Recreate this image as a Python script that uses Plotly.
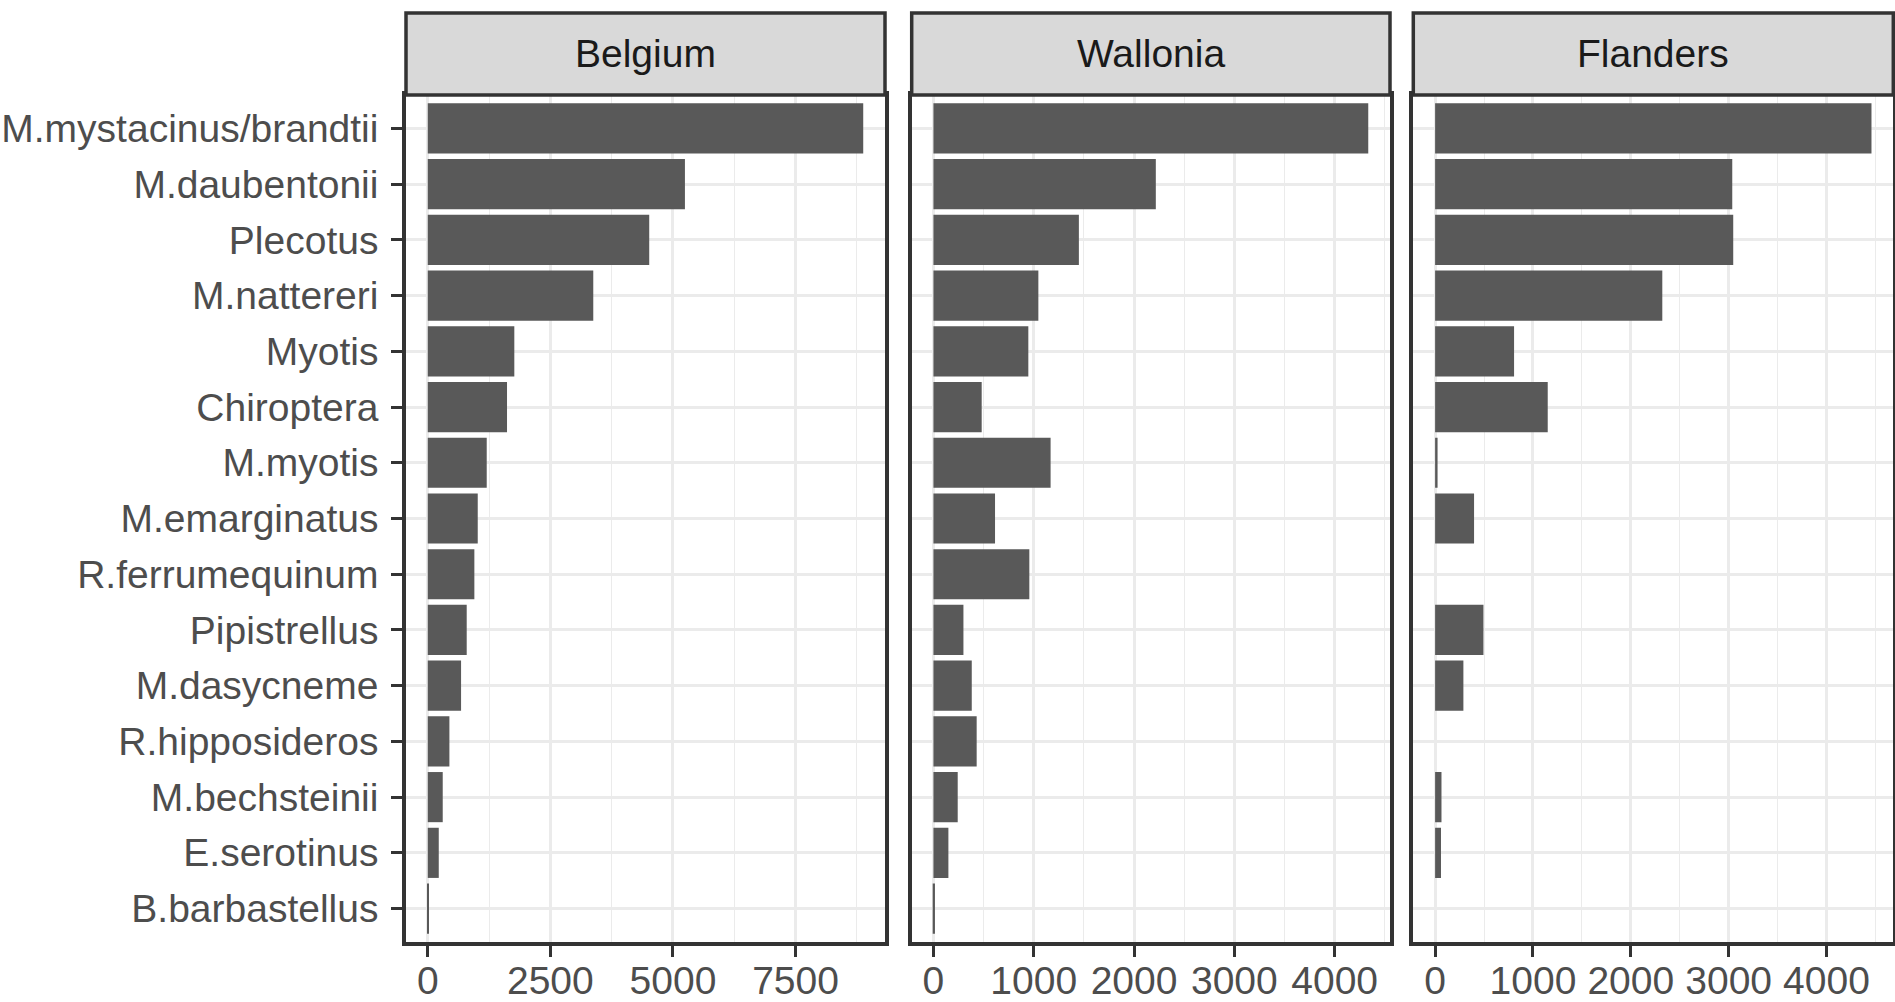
import plotly.graph_objects as go

# ---------------- data ----------------
species = [
    "M.mystacinus/brandtii", "M.daubentonii", "Plecotus", "M.nattereri", "Myotis",
    "Chiroptera", "M.myotis", "M.emarginatus", "R.ferrumequinum", "Pipistrellus",
    "M.dasycneme", "R.hipposideros", "M.bechsteinii", "E.serotinus", "B.barbastellus",
]
regions = ["Belgium", "Wallonia", "Flanders"]
belgium = [8880, 5244, 4516, 3375, 1765, 1616, 1202, 1019, 950, 794, 679, 441, 305, 224, 25]
wallonia = [4335, 2217, 1450, 1046, 946, 481, 1168, 614, 956, 299, 382, 431, 242, 149, 15]
flanders = [4460, 3037, 3047, 2322, 807, 1151, 25, 398, 0, 494, 289, 0, 65, 60, 0]
values = [belgium, wallonia, flanders]
x_dticks = [2500, 1000, 1000]

# ---------------- layout geometry (pixels) ----------------
W, H = 1895, 1002
panel_x = [(406, 885), (911.7, 1390), (1413.3, 1893.3)]
panel_top, panel_bottom = 95, 942
strip_top = 13

def px_x(v):
    return v / W

def px_y(v):
    return 1 - v / H

FONT = "Liberation Sans, Arial, Helvetica, sans-serif"
FS = 39
AXIS_TXT = "#4D4D4D"
LINE = "#333333"
GRID = "#EBEBEB"
BAR = "#595959"

fig = go.Figure()
layout = dict(
    width=W, height=H, autosize=False,
    margin=dict(l=0, r=0, t=0, b=0),
    paper_bgcolor="white", plot_bgcolor="white",
    showlegend=False, bargap=0.1,
    font=dict(family=FONT, size=FS, color=AXIS_TXT),
)
shapes, annotations = [], []

n = len(species)
for i, (reg, vals) in enumerate(zip(regions, values)):
    sfx = "" if i == 0 else str(i + 1)
    fig.add_trace(go.Bar(
        x=vals, y=species, orientation="h", width=0.9,
        marker=dict(color=BAR, line=dict(width=0)),
        xaxis="x" + sfx, yaxis="y" + sfx, name=reg,
    ))
    m = max(vals)
    dt = x_dticks[i]
    x0, x1 = panel_x[i]
    layout["xaxis" + sfx] = dict(
        domain=[px_x(x0), px_x(x1)], anchor="y" + sfx,
        range=[-0.05 * m, 1.05 * m],
        tickmode="linear", tick0=0, dtick=dt,
        showgrid=True, gridcolor=GRID, gridwidth=2.5,
        minor=dict(tick0=0, dtick=dt / 2, showgrid=True, gridcolor=GRID, gridwidth=1.2, ticks=""),
        zeroline=False,
        showline=True, mirror=True, linecolor=LINE, linewidth=3.5,
        ticks="outside", ticklen=11, tickwidth=2.5, tickcolor=LINE,
        tickfont=dict(family=FONT, size=FS, color=AXIS_TXT),
        ticklabelstandoff=-10,
        automargin=False, fixedrange=True,
    )
    ycfg = dict(
        domain=[px_y(panel_bottom), px_y(panel_top)], anchor="x" + sfx,
        type="category", categoryorder="array", categoryarray=species,
        range=[n - 0.4, -0.6],
        showgrid=True, gridcolor=GRID, gridwidth=2.5,
        zeroline=False,
        showline=True, mirror=True, linecolor=LINE, linewidth=3.5,
        automargin=False, fixedrange=True,
    )
    if i == 0:
        ycfg.update(ticks="outside", ticklen=11, tickwidth=2.5, tickcolor=LINE,
                    tickfont=dict(family=FONT, size=FS, color=AXIS_TXT),
                    ticklabelstandoff=5, showticklabels=True)
    else:
        ycfg.update(ticks="", showticklabels=False, matches="y")
    layout["yaxis" + sfx] = ycfg

    # facet strip
    shapes.append(dict(
        type="rect", xref="paper", yref="paper",
        x0=px_x(x0), x1=px_x(x1), y0=px_y(panel_top), y1=px_y(strip_top),
        fillcolor="#D9D9D9", line=dict(color=LINE, width=3.5), layer="above",
    ))
    annotations.append(dict(
        xref="paper", yref="paper",
        x=px_x((x0 + x1) / 2), y=px_y((panel_top + strip_top) / 2),
        text=reg, showarrow=False, xanchor="center", yanchor="middle",
        font=dict(family=FONT, size=FS, color="#1A1A1A"),
    ))

layout["shapes"] = shapes
layout["annotations"] = annotations
fig.update_layout(**layout)
fig.write_html(
    "out.html",
    config={"displayModeBar": False},
    post_script="document.body.style.margin='0';document.body.style.padding='0';"
                "document.body.style.overflow='hidden';",
)
